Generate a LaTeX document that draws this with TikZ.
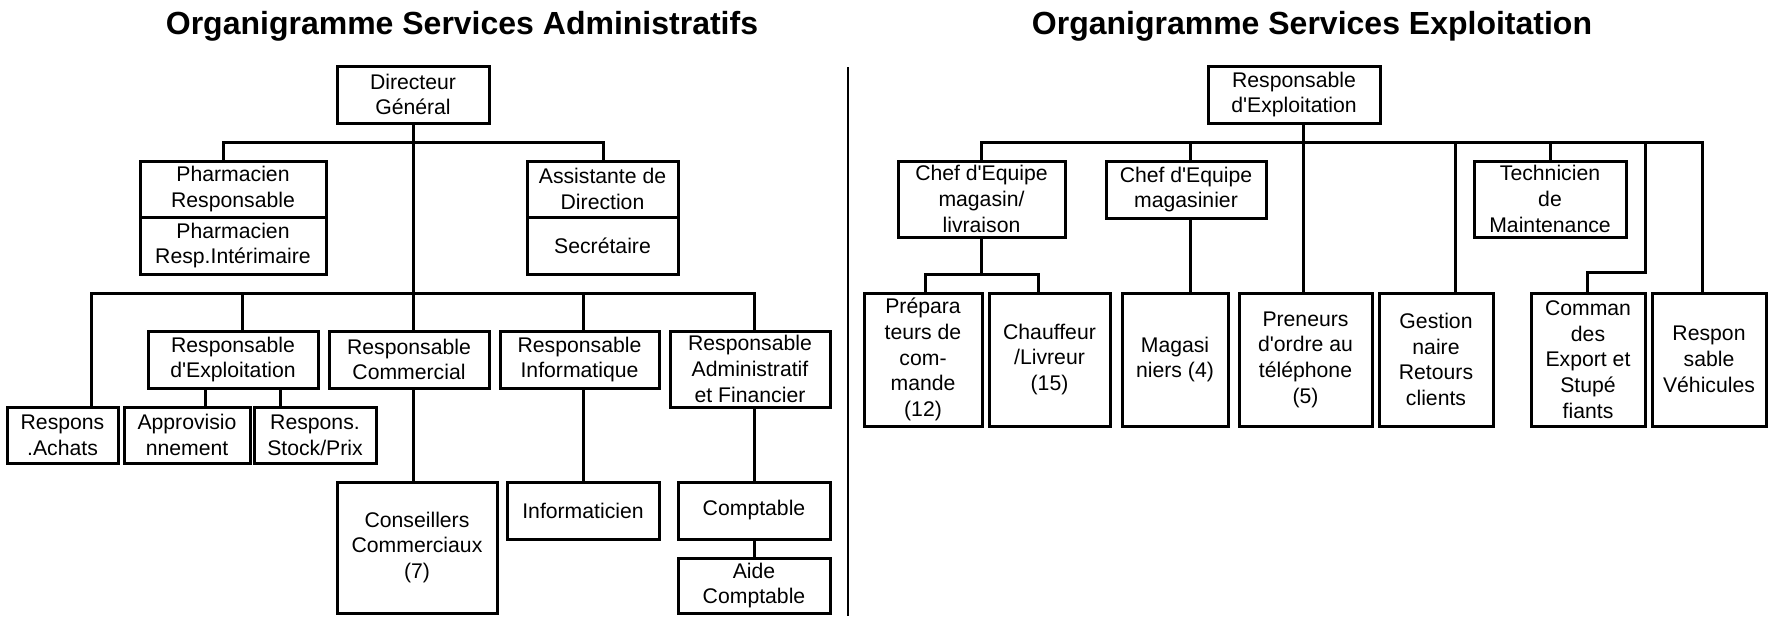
\documentclass[tikz,border=0pt]{standalone}
\usepackage{fontspec}
\setmainfont{Liberation Sans}[Ligatures=TeXOff]
\tikzset{
  box/.style={draw, line width=3pt, inner sep=0pt, align=center,
    font=\fontsize{21.2}{25.7}\selectfont},
  conn/.style={line width=3pt},
  sepline/.style={line width=2.5pt},
  titlestyle/.style={inner sep=0pt, anchor=base, font=\fontsize{32}{38}\selectfont\bfseries}
}
\newcommand{\bx}[6]{\node[box, minimum width=#4pt, minimum height=#5pt] (#1) at (#2,#3) {#6};}
\begin{document}
\begin{tikzpicture}[x=1pt,y=-1pt]
\useasboundingbox (0,0) rectangle (1769,616);
% titles
\node[titlestyle] (t1) at (462,34) {Organigramme Services Administratifs};
\node[titlestyle] (t2) at (1312,34) {Organigramme Services Exploitation};
% separator
\coordinate (s1) at (848,67);
\coordinate (s2) at (848,616);
\draw[sepline] (s1) -- (s2);

% ---------- left chart ----------
\bx{dg}{413}{94.5}{152}{57}{Directeur\\Général}
\bx{ph1}{233}{189}{186}{56}{Pharmacien\\Responsable}
\bx{ph2}{233}{245.5}{186}{57}{Pharmacien\\Resp.Intérimaire}
\bx{as1}{602.5}{189}{151}{56}{Assistante de\\Direction}
\bx{as2}{602.5}{245.5}{151}{57}{Secrétaire}
\bx{ra}{62.5}{435}{111}{56}{Respons\\.Achats}
\bx{re}{233}{359.5}{170}{57}{Responsable\\d'Exploitation}
\bx{rc}{409}{359.5}{160}{57}{Responsable\\Commercial}
\bx{ri}{579.5}{359.5}{159}{57}{Responsable\\Informatique}
\bx{raf}{750}{369}{160}{76}{Responsable\\Administratif\\et Financier}
\bx{ap}{187}{435}{126}{56}{Approvisio\\nnement}
\bx{sp}{315}{435}{122}{56}{Respons.\\Stock/Prix}
\bx{cc}{417}{547.5}{160}{131}{Conseillers\\Commerciaux\\(7)}
\bx{inf}{583}{510.5}{152}{57}{Informaticien}
\bx{co}{754}{510.5}{152}{57}{Comptable}
\bx{ac}{754}{585.5}{152}{55}{Aide\\Comptable}

\coordinate (b1) at (413,142);
\coordinate (b2) at (413,293);
\draw[conn] (dg.south) -- (dg.south |- rc.north);
\draw[conn] ([xshift=-10pt]ph1.north) |- (b1) -| ([xshift=0.5pt]as1.north);
\draw[conn] ([xshift=28.5pt]ra.north) |- ([xshift=4pt]raf.north |- b2) -- ([xshift=4pt]raf.north);
\draw[conn] ([xshift=9pt]re.north) -- ([xshift=9pt]re.north |- b2);
\draw[conn] ([xshift=3.5pt]ri.north) -- ([xshift=3.5pt]ri.north |- b2);
\draw[conn] ([xshift=-28pt]re.south) -- ([xshift=-28pt]re.south |- ap.north);
\draw[conn] ([xshift=47pt]re.south) -- ([xshift=47pt]re.south |- sp.north);
\draw[conn] ([xshift=4pt]rc.south) -- ([xshift=4pt]rc.south |- cc.north);
\draw[conn] (inf.north) -- (inf.north |- ri.south);
\draw[conn] (co.north) -- (co.north |- raf.south);
\draw[conn] (co.south) -- (ac.north);

% ---------- right chart ----------
\bx{rex}{1294}{94.5}{172}{57}{Responsable\\d'Exploitation}
\bx{c1}{981.5}{199}{167}{76}{Chef d'Equipe\\magasin/\\livraison}
\bx{c2}{1186}{189.5}{160}{57}{Chef d'Equipe\\magasinier}
\bx{tm}{1550}{199}{152}{76}{Technicien\\de\\Maintenance}
\bx{pr}{923}{359.5}{118}{133}{Prépara\\teurs de\\com-\\mande\\(12)}
\bx{ch}{1049.5}{359.5}{121}{133}{Chauffeur\\/Livreur\\(15)}
\bx{mg}{1175}{359.5}{106}{133}{Magasi\\niers (4)}
\bx{pn}{1305.5}{359.5}{133}{133}{Preneurs\\d'ordre au\\téléphone\\(5)}
\bx{gr}{1436}{359.5}{114}{133}{Gestion\\naire\\Retours\\clients}
\bx{ce}{1588}{359.5}{114}{133}{Comman\\des\\Export et\\Stupé\\fiants}
\bx{rv}{1709}{359.5}{114}{133}{Respon\\sable\\Véhicules}

\coordinate (b3) at (1303,142);
\coordinate (c1j) at (981,274);
\draw[conn] ([xshift=-0.5pt]c1.north) |- ([xshift=-7pt]rv.north |- b3) -- ([xshift=-7pt]rv.north);
\draw[conn] ([xshift=9pt]rex.south) -- ([xshift=9pt]rex.south |- pn.north);
\draw[conn] ([xshift=4pt]c2.north) -- ([xshift=4pt]c2.north |- b3);
\draw[conn] ([xshift=4pt]c2.south) -- ([xshift=4pt]c2.south |- mg.north);
\draw[conn] (tm.north) -- (tm.north |- b3);
\draw[conn] ([xshift=19pt]gr.north) -- ([xshift=19pt]gr.north |- b3);
\draw[conn] ([xshift=-1pt]ce.north) -- ++(0,-19) -| ([xshift=57pt]ce.north |- b3);
\draw[conn] ([xshift=-0.5pt]c1.south) -- (c1j);
\draw[conn] ([xshift=2pt]pr.north) |- (c1j) -| ([xshift=-11.5pt]ch.north);
\end{tikzpicture}
\end{document}
